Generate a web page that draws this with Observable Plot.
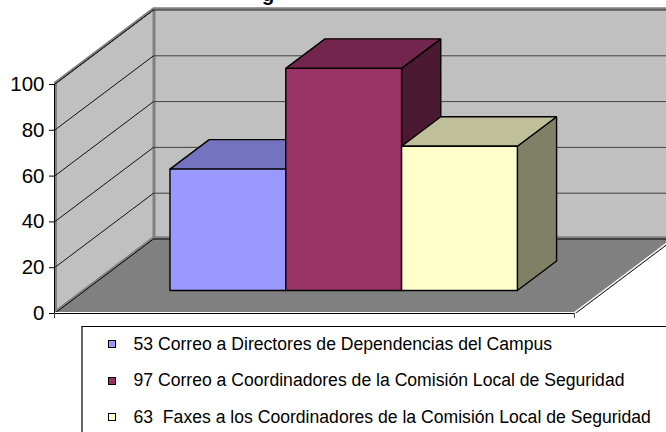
<!DOCTYPE html>
<html><head><meta charset="utf-8">
<script src="https://cdn.jsdelivr.net/npm/d3@7"></script>
<script src="https://cdn.jsdelivr.net/npm/@observablehq/plot@0.6"></script>
<style>
html,body{margin:0;padding:0;background:#fff;width:666px;height:432px;overflow:hidden;font-family:"Liberation Sans",Arial,sans-serif;color:#000}
#wrap{position:relative;width:666px;height:432px;overflow:hidden}
#title{position:absolute;left:262px;top:-17px;font-weight:bold;font-size:20px;line-height:22px}
#chart{position:absolute;left:0;top:0}
#legend{position:absolute;left:80.5px;top:326px;width:585.5px;height:106px;box-sizing:border-box;border-top:1.5px solid #000;border-left:2px solid #666}
.row{position:absolute;left:0;height:36px;display:flex;align-items:center;white-space:pre;font-size:17.6px}
.sw{position:absolute;left:25.5px;width:6px;height:6px;border:1.3px solid #000}
.row span.t{position:absolute;left:51px}
</style></head><body>
<div id="wrap">
<div id="title">g</div>
<div id="chart"></div>
<div id="legend"></div>
</div>
<script>
const seriesValues = [53, 97, 63];
const seriesLabels = [
  "53 Correo a Directores de Dependencias del Campus",
  "97 Correo a Coordinadores de la Comisión Local de Seguridad",
  "63  Faxes a los Coordinadores de la Comisión Local de Seguridad"
];
const frontColors = ["#9999FF", "#993366", "#FFFFCC"];
const topColors   = ["#7373BF", "#73264D", "#BFBF99"];
const sideColors  = ["#4C4C80", "#4C1933", "#808066"];
const yTicks = [0, 20, 40, 60, 80, 100];

// oblique 3D model: u = bar widths along the category axis, v = value, d = depth 0..1
const gap = 0.733, floorW = 4.49, vMax = 100;
const skewU = 0.855, skewV = 32.53, dFront = 0.309, dBack = 0.705;
const P = (u, v, d) => ({x: u + d * skewU, y: v + d * skewV});
const poly = (id, fill, corners) => [...corners, corners[0]].map(([u, v, d]) => ({...P(u, v, d), id, fill}));
const path = corners => corners.map(([u, v, d]) => P(u, v, d));

const faces = [];
faces.push(...poly("wallL", "#C0C0C0", [[0,0,0],[0,vMax,0],[0,vMax,1],[0,0,1]]));
faces.push(...poly("wallB", "#C0C0C0", [[0,0,1],[0,vMax,1],[floorW,vMax,1],[floorW,0,1]]));
faces.push(...poly("floor", "#808080", [[0,0,0],[0,0,1],[floorW,0,1],[floorW,0,0]]));

const barFaces = [];
seriesValues.forEach((v, i) => {
  const a = gap + i, b = a + 1;
  barFaces.push(...poly("side" + i, sideColors[i], [[b,0,dFront],[b,v,dFront],[b,v,dBack],[b,0,dBack]]));
  barFaces.push(...poly("top" + i, topColors[i], [[a,v,dFront],[a,v,dBack],[b,v,dBack],[b,v,dFront]]));
  barFaces.push(...poly("front" + i, frontColors[i], [[a,0,dFront],[a,v,dFront],[b,v,dFront],[b,0,dFront]]));
});

const gridTicks = yTicks.filter(t => t > 0);
const gridL = gridTicks.flatMap(t => path([[0,t,0],[0,t,1]]).map(p => ({...p, t})));
const gridB = gridTicks.filter(t => t < vMax).flatMap(t => path([[0,t,1],[floorW,t,1]]).map(p => ({...p, t})));

const chart = Plot.plot({
  width: 666, height: 326,
  marginLeft: 54, marginRight: 0, marginTop: 0, marginBottom: 13,
  x: {domain: [0, 612 / 115.8], axis: null},
  y: {domain: [0, 313 / 2.29], axis: null},
  style: {background: "transparent", overflow: "hidden"},
  marks: [
    Plot.line(faces, {x: "x", y: "y", z: "id", fill: "fill", stroke: "none", clip: true}),
    // wall edge bands
    Plot.line(path([[0,vMax,0],[0,vMax,1],[floorW,vMax,1]]), {x: "x", y: "y", stroke: "#808080", strokeWidth: 2.5, dy: -1.4, clip: true}),
    Plot.line(path([[0,0,0],[0,0,1],[floorW,0,1]]), {x: "x", y: "y", stroke: "#808080", strokeWidth: 2.5, dy: -1.4, clip: true}),
    Plot.line(path([[0,0,1],[0,vMax,1]]), {x: "x", y: "y", stroke: "#808080", strokeWidth: 3, dx: 0.5}),
    Plot.line(path([[0,0,0],[0,vMax,0]]), {x: "x", y: "y", stroke: "#808080", strokeWidth: 2, dx: 1.5}),
    // gridlines
    Plot.line(gridL, {x: "x", y: "y", z: "t", stroke: "#111", strokeWidth: 1}),
    Plot.line(gridB, {x: "x", y: "y", z: "t", stroke: "#404040", strokeWidth: 1, clip: true}),
    // wall outlines
    Plot.line(path([[0,vMax,0],[0,vMax,1],[floorW,vMax,1]]), {x: "x", y: "y", stroke: "#222", strokeWidth: 1, clip: true}),
    Plot.line(path([[0,0,0],[0,0,1],[floorW,0,1]]), {x: "x", y: "y", stroke: "#000", strokeWidth: 1, clip: true}),
    // bright floor edge
    Plot.line(path([[0,0,0],[floorW,0,0],[floorW,0,1]]), {x: "x", y: "y", stroke: "#fff", strokeWidth: 1.2, dy: -1, clip: true}),
    Plot.line(path([[floorW,0,0],[floorW,0,1]]), {x: "x", y: "y", stroke: "#111", strokeWidth: 1, dx: 1, clip: true}),
    // bars
    Plot.line(barFaces, {x: "x", y: "y", z: "id", fill: "fill", stroke: "#000", strokeWidth: 1.4, strokeLinejoin: "miter"}),
    // axes
    Plot.ruleX([0], {y1: 0, y2: vMax, stroke: "#000", strokeWidth: 1}),
    Plot.ruleY([0], {x1: 0, x2: floorW, stroke: "#000", strokeWidth: 1}),
    Plot.axisY({ticks: yTicks, tickSize: 5, tickPadding: 5, fontSize: 20.5, stroke: "#000", color: "#000", fontFamily: "Liberation Sans", label: null}),
    Plot.axisX({ticks: [0, floorW], tickSize: 5, tickFormat: () => "", stroke: "#444", label: null})
  ]
});
document.getElementById("chart").append(chart);

const rowsTop = [-1, 35.5, 72];
const legend = document.getElementById("legend");
seriesLabels.forEach((label, i) => {
  const row = document.createElement("div");
  row.className = "row";
  row.style.top = rowsTop[i] + "px";
  const sw = document.createElement("span");
  sw.className = "sw";
  sw.style.background = frontColors[i];
  const t = document.createElement("span");
  t.className = "t";
  t.textContent = label;
  row.append(sw, t);
  legend.append(row);
});
</script>
</body></html>
